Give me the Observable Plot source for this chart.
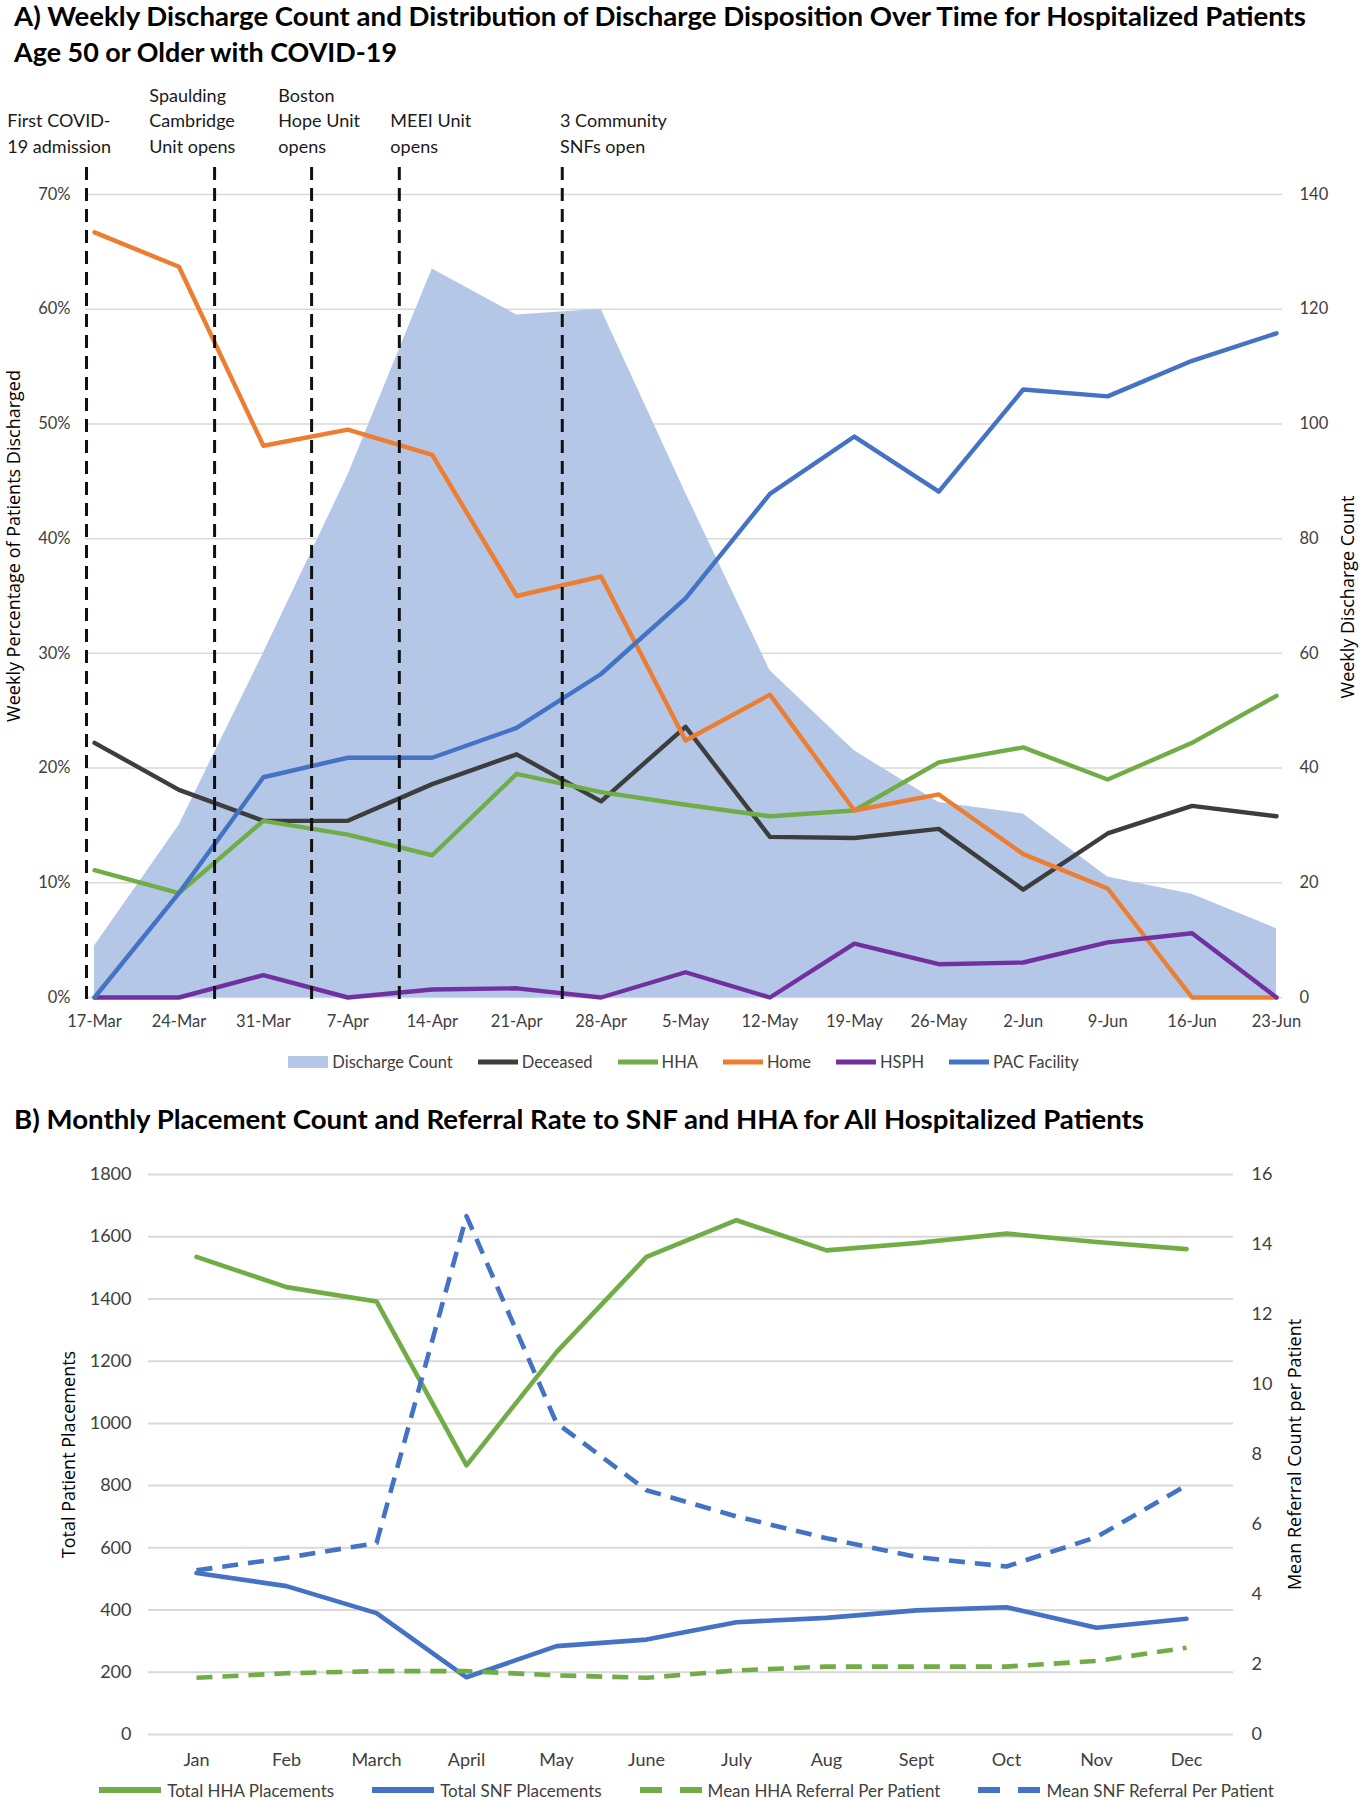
<!DOCTYPE html>
<html>
<head>
<meta charset="utf-8">
<script src="https://cdn.jsdelivr.net/npm/d3@7"></script>
<script src="https://cdn.jsdelivr.net/npm/@observablehq/plot@0.6"></script>
<style>
  body { margin: 0; background: #fff; width: 1360px; font-family: Lato, sans-serif; }
  .ttl { font-family: Lato, sans-serif; font-weight: 700; font-size: 27px; line-height: 36px; color: #000; white-space: nowrap; padding-left: 14px; box-sizing: border-box; }
  .ttl span { display: inline-block; transform-origin: left center; }
  #titleA { height: 70px; }
  #titleA .inner { position: relative; top: -2px; }
  #titleB { height: 65px; padding-top: 16px; }
  .legend { display: flex; justify-content: center; align-items: center; font-family: Lato, sans-serif; color: #404040; box-sizing: border-box; white-space: nowrap; }
  #legendA { height: 47px; padding-left: 85px; padding-right: 78px; gap: 25px; font-size: 16.5px; }
  #legendB { height: 30px; padding-left: 140px; padding-right: 127px; gap: 38px; font-size: 17px; }
  .item { display: flex; align-items: center; gap: 4px; }
  #legendB .item { gap: 6px; }
  svg { display: block; }
</style>
</head>
<body>
<div id="titleA" class="ttl"><div class="inner"><span id="tA1">A) Weekly Discharge Count and Distribution of Discharge Disposition Over Time for Hospitalized Patients</span><br><span id="tA2">Age 50 or Older with COVID-19</span></div></div>
<div id="chartA"></div>
<div id="legendA" class="legend"></div>
<div id="titleB" class="ttl"><span id="tB">B) Monthly Placement Count and Referral Rate to SNF and HHA for All Hospitalized Patients</span></div>
<div id="chartB"></div>
<div id="legendB" class="legend"></div>

<script>
// ---------- Panel A data ----------
const weekLabels = ["17-Mar","24-Mar","31-Mar","7-Apr","14-Apr","21-Apr","28-Apr","5-May","12-May","19-May","26-May","2-Jun","9-Jun","16-Jun","23-Jun"];
const dischargeCount = [9, 30, 60, 91, 127, 119, 120, 88, 57, 43, 34, 32, 21, 18, 12];
const deceasedPct = [22.2, 18.1, 15.4, 15.4, 18.6, 21.2, 17.1, 23.6, 14.0, 13.9, 14.7, 9.4, 14.3, 16.7, 15.8];
const hhaPct      = [11.1, 9.1, 15.4, 14.2, 12.4, 19.5, 17.9, 16.8, 15.8, 16.3, 20.5, 21.8, 19.0, 22.2, 26.3];
const homePct     = [66.7, 63.7, 48.1, 49.5, 47.3, 35.0, 36.7, 22.4, 26.4, 16.3, 17.7, 12.5, 9.5, 0, 0];
const hsphPct     = [0, 0, 1.95, 0, 0.7, 0.8, 0, 2.2, 0, 4.7, 2.9, 3.05, 4.8, 5.6, 0];
const pacPct      = [0, 9.1, 19.2, 20.9, 20.9, 23.5, 28.2, 34.8, 43.9, 48.9, 44.1, 53.0, 52.4, 55.5, 57.9];
const pctTicks = [0, 0.1, 0.2, 0.3, 0.4, 0.5, 0.6, 0.7];
const countTicks = [0, 20, 40, 60, 80, 100, 120, 140];
// events (in week units after 17-Mar) and where their labels start
const eventNames = ["First COVID-\n19 admission", "Spaulding\nCambridge\nUnit opens", "Boston\nHope Unit\nopens", "MEEI Unit\nopens", "3 Community\nSNFs open"];
const eventWeeks = [-0.095, 1.422, 2.571, 3.610, 5.540];
const eventLabelWeeks = [-1.033, 0.649, 2.177, 3.504, 5.514];

// ---------- Panel B data ----------
const months = ["Jan","Feb","March","April","May","June","July","Aug","Sept","Oct","Nov","Dec"];
const totalHHA = [1535, 1438, 1392, 865, 1229, 1535, 1653, 1556, 1580, 1610, 1583, 1560];
const totalSNF = [519, 477, 390, 184, 284, 305, 361, 375, 399, 409, 343, 372];
const meanHHAReferral = [1.62, 1.75, 1.81, 1.81, 1.69, 1.62, 1.83, 1.94, 1.94, 1.94, 2.10, 2.48];
const meanSNFReferral = [4.69, 5.05, 5.47, 14.81, 8.9, 6.98, 6.23, 5.61, 5.07, 4.80, 5.64, 7.12];
const placementTicks = [0, 200, 400, 600, 800, 1000, 1200, 1400, 1600, 1800];
const referralTicks = [0, 2, 4, 6, 8, 10, 12, 14, 16];

// ---------- colours ----------
const C = { deceased: "#3d3d3d", hha: "#70AD47", home: "#ED7D31", hsph: "#7030A0", pac: "#4472C4", area: "#B4C7E7", grid: "#D9D9D9" };

// ---------- Panel A ----------
const countToPct = 0.7 / 140;
const weekIdx = weekLabels.map((_, i) => i);
const seriesA = [
  { name: "Deceased", values: deceasedPct, color: C.deceased },
  { name: "HHA", values: hhaPct, color: C.hha },
  { name: "Home", values: homePct, color: C.home },
  { name: "HSPH", values: hsphPct, color: C.hsph },
  { name: "PAC Facility", values: pacPct, color: C.pac }
];
const events = eventNames.map((n, i) => ({ name: n, at: eventWeeks[i], labelAt: eventLabelWeeks[i] }));

const chartA = Plot.plot({
  width: 1360, height: 968,
  marginTop: 124, marginBottom: 41, marginLeft: 85, marginRight: 78,
  style: { fontFamily: "Lato, sans-serif", fontSize: "16.5px", color: "#404040", background: "white", overflow: "visible" },
  x: { type: "linear", domain: [-0.107, 14.071] },
  y: { domain: [0, 0.7] },
  marks: [
    Plot.gridY(pctTicks, { stroke: C.grid, strokeOpacity: 1, strokeWidth: 1.5 }),
    Plot.areaY(dischargeCount, { x: weekIdx, y: d => d * countToPct, fill: C.area, fillOpacity: 1 }),
    ...seriesA.map(s => Plot.lineY(s.values, { x: weekIdx, y: d => d / 100, stroke: s.color, strokeWidth: 4.4, strokeLinejoin: "round", strokeLinecap: "round" })),
    Plot.ruleX(events, { x: "at", stroke: "#111", strokeWidth: 3, strokeDasharray: "13,8", insetTop: -27, insetBottom: -5 }),
    Plot.text(events, { x: "labelAt", frameAnchor: "top", text: "name", textAnchor: "start", lineAnchor: "bottom", lineHeight: 1.39, dy: -42, fontSize: 18, fill: "#1a1a1a" }),
    Plot.axisX({ ticks: weekIdx, tickFormat: i => weekLabels[i], tickSize: 0, tickPadding: 18, label: null }),
    Plot.axisY({ ticks: pctTicks, tickFormat: d3.format(".0%"), tickSize: 0, tickPadding: 15, label: null }),
    Plot.axisY({ anchor: "right", ticks: countTicks.map(c => c * countToPct), tickFormat: d => Math.round(d / countToPct), tickSize: 0, tickPadding: 17, label: null }),
    Plot.text(["Weekly Percentage of Patients Discharged"], { frameAnchor: "left", textAnchor: "middle", rotate: -90, dx: -71, dy: -50, fontFamily: "Open Sans, sans-serif", fontSize: 18, fill: "#000" }),
    Plot.text(["Weekly Discharge Count"], { frameAnchor: "right", textAnchor: "middle", rotate: -90, dx: 66, dy: 1, fontFamily: "Open Sans, sans-serif", fontSize: 18, fill: "#000" })
  ]
});
document.getElementById("chartA").append(chartA);

// ---------- Panel B ----------
const refToPlace = 1800 / 16;
const chartB = Plot.plot({
  width: 1360, height: 625,
  marginTop: 24, marginBottom: 41, marginLeft: 148, marginRight: 127,
  style: { fontFamily: "Lato, sans-serif", fontSize: "18px", color: "#404040", background: "white", overflow: "visible" },
  x: { type: "point", domain: months, padding: 0.5 },
  y: { domain: [0, 1800] },
  marks: [
    Plot.gridY(placementTicks, { stroke: C.grid, strokeOpacity: 1, strokeWidth: 2 }),
    Plot.lineY(totalHHA, { x: months, y: d => d, stroke: C.hha, strokeWidth: 4.6 }),
    Plot.lineY(totalSNF, { x: months, y: d => d, stroke: C.pac, strokeWidth: 4.6 }),
    Plot.lineY(meanHHAReferral, { x: months, y: d => d * refToPlace, stroke: C.hha, strokeWidth: 4.6, strokeDasharray: "16,10", strokeLinecap: "butt" }),
    Plot.lineY(meanSNFReferral, { x: months, y: d => d * refToPlace, stroke: C.pac, strokeWidth: 4.6, strokeDasharray: "16,10", strokeLinecap: "butt" }),
    Plot.axisX({ tickSize: 0, tickPadding: 19, label: null }),
    Plot.axisY({ ticks: placementTicks, tickSize: 0, tickPadding: 17, label: null, tickFormat: d => String(d) }),
    Plot.axisY({ anchor: "right", ticks: referralTicks.map(r => r * refToPlace), tickFormat: d => Math.round(d / refToPlace), tickSize: 0, tickPadding: 18, label: null }),
    Plot.text(["Total Patient Placements"], { frameAnchor: "left", textAnchor: "middle", rotate: -90, dx: -79, fontFamily: "Open Sans, sans-serif", fontSize: 18, fill: "#000" }),
    Plot.text(["Mean Referral Count per Patient"], { frameAnchor: "right", textAnchor: "middle", rotate: -90, dx: 62, fontFamily: "Open Sans, sans-serif", fontSize: 18, fill: "#000" })
  ]
});
document.getElementById("chartB").append(chartB);

// ---------- Legends ----------
function swatch(kind, color) {
  const ns = "http://www.w3.org/2000/svg";
  const s = document.createElementNS(ns, "svg");
  if (kind === "area") {
    s.setAttribute("width", 40); s.setAttribute("height", 12);
    const r = document.createElementNS(ns, "rect");
    r.setAttribute("width", 40); r.setAttribute("height", 12); r.setAttribute("fill", color);
    s.append(r);
  } else {
    const w = kind === "lineB" || kind === "dashB" ? 62 : 40;
    s.setAttribute("width", w); s.setAttribute("height", 8);
    const l = document.createElementNS(ns, "line");
    l.setAttribute("x1", 0); l.setAttribute("x2", w); l.setAttribute("y1", 4); l.setAttribute("y2", 4);
    l.setAttribute("stroke", color); l.setAttribute("stroke-width", kind === "line" ? 5 : 6);
    if (kind === "dashB") l.setAttribute("stroke-dasharray", "22,18");
    s.append(l);
  }
  return s;
}
function buildLegend(id, items) {
  const host = document.getElementById(id);
  for (const it of items) {
    const d = document.createElement("div");
    d.className = "item";
    d.append(swatch(it.kind, it.color));
    const t = document.createElement("span");
    t.textContent = it.label;
    d.append(t);
    host.append(d);
  }
}
buildLegend("legendA", [
  { label: "Discharge Count", kind: "area", color: C.area },
  ...seriesA.map(s => ({ label: s.name, kind: "line", color: s.color }))
]);
buildLegend("legendB", [
  { label: "Total HHA Placements", kind: "lineB", color: C.hha },
  { label: "Total SNF Placements", kind: "lineB", color: C.pac },
  { label: "Mean HHA Referral Per Patient", kind: "dashB", color: C.hha },
  { label: "Mean SNF Referral Per Patient", kind: "dashB", color: C.pac }
]);

// ---------- Title fitting (narrow Calibri-like look) ----------
function fit(id, target) {
  const el = document.getElementById(id);
  el.style.transform = `scaleX(${target / el.getBoundingClientRect().width})`;
}
fit("tA1", 1292);
fit("tA2", 383);
fit("tB", 1130);
</script>
</body>
</html>
